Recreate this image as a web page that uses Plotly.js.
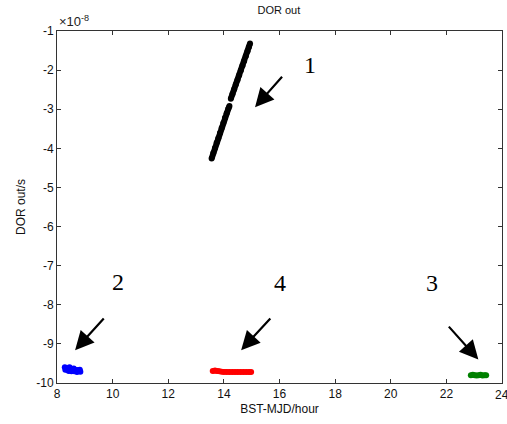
<!DOCTYPE html>
<html>
<head>
<meta charset="utf-8">
<script src="https://cdn.plot.ly/plotly-3.0.1.min.js"></script>
<style>html,body{margin:0;padding:0;background:#fff;overflow:hidden;}#chart{width:507px;height:424px;}</style>
</head>
<body>
<div id="chart"></div>
<script>
// Values in units of 1e-8 s
const seg1X = [13.56, 13.62, 13.68, 13.74, 13.80, 13.86, 13.92, 13.98, 14.04, 14.10, 14.16, 14.20, null,
               14.25, 14.31, 14.37, 14.43, 14.49, 14.55, 14.61, 14.67, 14.73, 14.79, 14.85, 14.90, 14.94];
const seg1Y = [-4.26, -4.12, -3.99, -3.86, -3.74, -3.61, -3.48, -3.35, -3.22, -3.10, -2.99, -2.92, null,
               -2.73, -2.61, -2.49, -2.37, -2.25, -2.13, -2.01, -1.89, -1.77, -1.64, -1.52, -1.41, -1.32];
const seg2X = [8.28, 8.32, 8.36, 8.40, 8.45, 8.50, 8.55, 8.60, 8.65, 8.70, 8.75, 8.80, 8.84, 8.30, 8.42, 8.52, 8.62, 8.72, 8.82];
const seg2Y = [-9.60, -9.62, -9.66, -9.63, -9.60, -9.64, -9.67, -9.63, -9.66, -9.70, -9.67, -9.69, -9.71, -9.66, -9.69, -9.70, -9.70, -9.72, -9.66];
const seg4X = [13.60, 13.68, 13.76, 13.84, 13.92, 14.00, 14.10, 14.20, 14.30, 14.40, 14.50, 14.60, 14.70, 14.80, 14.90, 14.98];
const seg4Y = [-9.69, -9.68, -9.69, -9.70, -9.71, -9.72, -9.72, -9.72, -9.72, -9.72, -9.72, -9.72, -9.72, -9.72, -9.72, -9.72];
const seg3X = [22.88, 22.95, 23.02, 23.09, 23.16, 23.23, 23.30, 23.37, 23.43];
const seg3Y = [-9.80, -9.79, -9.80, -9.81, -9.80, -9.79, -9.81, -9.80, -9.80];
const xTicks = [8, 10, 12, 14, 16, 18, 20, 22, 24];
const yTicks = [-1, -2, -3, -4, -5, -6, -7, -8, -9, -10];
const labels = ['1', '2', '4', '3'];
const tipX = [15.12, 8.65, 14.62, 23.15];
const tipY = [-2.95, -9.16, -9.16, -9.40];
const tailX = [16.14, 9.73, 15.72, 22.04];
const tailY = [-2.13, -8.31, -8.31, -8.52];
const labelX = [17.1, 10.2, 16.02, 21.48];
const labelY = [-1.87, -7.41, -7.45, -7.45];

function tr(x, y, color, mode, w) {
  return {x: x, y: y, type: 'scatter', mode: mode,
    line: {color: color, width: w},
    marker: {color: color, size: 6, symbol: 'circle'},
    connectgaps: false, showlegend: false, hoverinfo: 'skip'};
}
const data = [
  tr(seg1X, seg1Y, '#000000', 'lines+markers', 6),
  tr(seg2X, seg2Y, '#0000ff', 'markers', 5),
  tr(seg4X, seg4Y, '#ff0000', 'lines+markers', 5),
  tr(seg3X, seg3Y, '#008000', 'lines+markers', 5)
];

const ann = [];
for (let i = 0; i < labels.length; i++) {
  ann.push({x: tipX[i], y: tipY[i], ax: tailX[i], ay: tailY[i], xref: 'x', yref: 'y', axref: 'x', ayref: 'y',
    text: '', showarrow: true, arrowhead: 2, arrowsize: 1.7, arrowwidth: 2.2, arrowcolor: '#000'});
  ann.push({x: labelX[i], y: labelY[i], xref: 'x', yref: 'y', text: labels[i], showarrow: false,
    font: {family: 'Liberation Serif, Times New Roman, serif', size: 24, color: '#000'}});
}
ann.push({x: 0, y: 1, xref: 'paper', yref: 'paper', xanchor: 'left', yanchor: 'bottom', yshift: 0,
  text: '×10<sup>-8</sup>', showarrow: false,
  font: {family: 'Liberation Sans, Arial, sans-serif', size: 13, color: '#222'}});
ann.push({x: 24, y: 0, xref: 'x', yref: 'paper', xanchor: 'center', yanchor: 'top', yshift: -3,
  text: '24', showarrow: false, cliponaxis: false,
  font: {family: 'Liberation Sans, Arial, sans-serif', size: 12, color: '#111'}});

const axisCommon = {showline: true, linecolor: '#333', linewidth: 1, mirror: 'ticks', ticks: 'inside',
  ticklen: 4, tickcolor: '#333', showgrid: false, zeroline: false,
  tickfont: {family: 'Liberation Sans, Arial, sans-serif', size: 12, color: '#111'}};

const layout = {
  width: 507, height: 424,
  margin: {l: 57, r: 5, t: 31, b: 41},
  paper_bgcolor: '#fff', plot_bgcolor: '#fff',
  title: {text: 'DOR out', x: 0.55, xanchor: 'center', y: 0.985, yanchor: 'top',
    font: {family: 'Liberation Sans, Arial, sans-serif', size: 11, color: '#111'}},
  xaxis: Object.assign({}, axisCommon, {range: [8, 24], tickvals: xTicks.slice(0, -1), ticktext: xTicks.slice(0, -1).map(String),
    title: {text: 'BST-MJD/hour', standoff: 4, font: {family: 'Liberation Sans, Arial, sans-serif', size: 12, color: '#111'}}}),
  yaxis: Object.assign({}, axisCommon, {range: [-10, -1], tickvals: yTicks, ticktext: yTicks.map(String),
    title: {text: 'DOR out/s', standoff: 8, font: {family: 'Liberation Sans, Arial, sans-serif', size: 12, color: '#111'}}}),
  annotations: ann
};
Plotly.newPlot('chart', data, layout, {displayModeBar: false, staticPlot: true});
</script>
</body>
</html>
